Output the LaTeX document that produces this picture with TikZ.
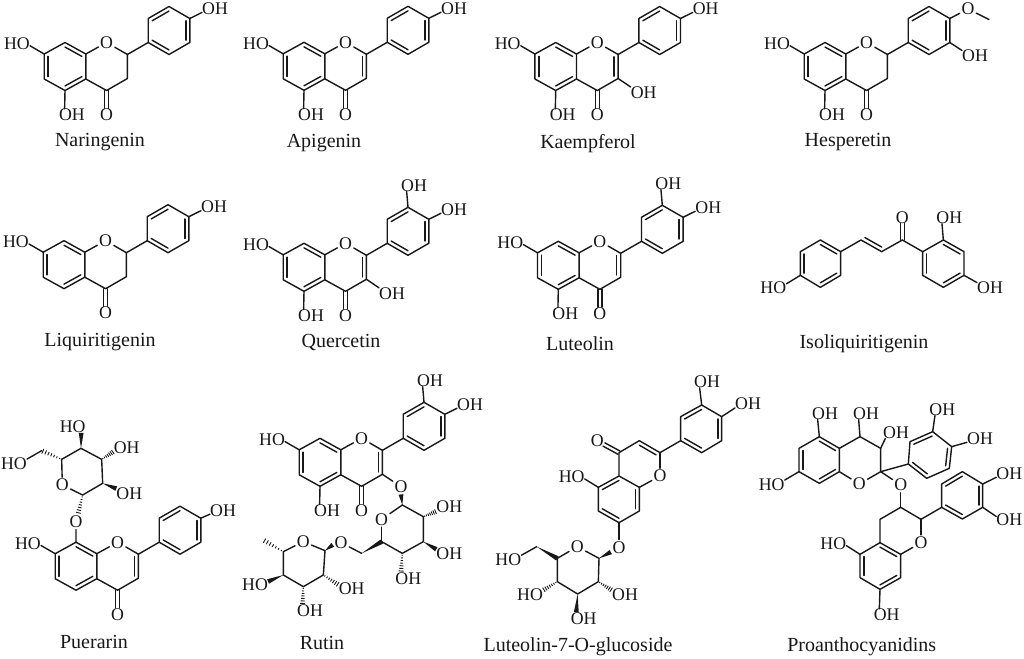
\documentclass[tikz,border=0pt]{standalone}
\usepackage{fontspec}
\setmainfont{Liberation Serif}
\usetikzlibrary{calc}
\definecolor{ink}{HTML}{181818}
\tikzset{
  bond/.style={line width=1.4pt,line join=round,line cap=round,draw=ink},
  atom/.style={font=\fontsize{17.8}{17.8}\selectfont,inner sep=0pt,text=ink},
  oatom/.style={atom,inner sep=1.6pt},
  caption/.style={font=\fontsize{20}{20}\selectfont,inner sep=0pt,text=ink,anchor=base},
  zoomed/.style={x=0.33333pt,y=-0.33333pt}
}
\newcommand{\bd}[2]{\draw[bond] (#1) -- (#2);}
\newcommand{\dbin}[3]{\draw[bond] ($(#1)!.19!(#3)$) -- ($(#2)!.19!(#3)$);}
\newcommand{\dbx}[2]{\draw[bond] ($(#1)!1.9pt!90:(#2)$) -- ($(#2)!1.9pt!-90:(#1)$);
  \draw[bond] ($(#1)!1.9pt!-90:(#2)$) -- ($(#2)!1.9pt!90:(#1)$);}
\newcommand{\wdg}[2]{\fill[ink] (#1) -- ($(#2)!2.4pt!90:(#1)$) -- ($(#2)!2.4pt!-90:(#1)$) -- cycle;}
\newcommand{\hsh}[2]{\foreach \hp in {0.1,0.24,...,1.0}{\pgfmathsetmacro\hw{0.4+2.2*\hp}
  \draw[line width=.9pt,draw=ink] ($(#1)!\hp!(#2)!\hw pt!90:(#2)$) -- ($(#1)!\hp!(#2)!\hw pt!-90:(#2)$);}}
% flavonoid core, origin at the centre of ring A
\newcommand{\mkcore}{
  \coordinate (cA) at (0,0); \coordinate (cC) at (41.6,0);
  \coordinate (a1) at (0,-24); \coordinate (a2) at (20.8,-12.5); \coordinate (a3) at (20.8,12.5);
  \coordinate (a4) at (0,24); \coordinate (a5) at (-20.8,12.5); \coordinate (a6) at (-20.8,-12.5);
  \coordinate (c2) at (62.4,-12); \coordinate (c3) at (62.4,12); \coordinate (c4) at (41.6,24);
  \node[oatom] (o1) at (41.6,-24) {O};
  \draw[bond] (a1)--(a2)--(a3)--(a4)--(a5)--(a6)--cycle;
  \dbin{a1}{a2}{cA}\dbin{a3}{a4}{cA}\dbin{a5}{a6}{cA}
  \bd{a2}{o1}\bd{o1}{c2}\draw[bond] (c2)--(c3)--(c4)--(a3);
  \node[atom] (oket) at (41.6,48) {O};
  \dbx{c4}{oket.north}
}
\newcommand{\mkdouble}{\dbin{c2}{c3}{cC}}
\newcommand{\mkringB}{
  \coordinate (cB) at (104,-36);
  \coordinate (b1) at (83.2,-24); \coordinate (b2) at (83.2,-48); \coordinate (b3) at (104,-60);
  \coordinate (b4) at (124.8,-48); \coordinate (b5) at (124.8,-24); \coordinate (b6) at (104,-12);
  \bd{c2}{b1}
  \draw[bond] (b1)--(b2)--(b3)--(b4)--(b5)--(b6)--cycle;
  \dbin{b2}{b3}{cB}\dbin{b4}{b5}{cB}\dbin{b6}{b1}{cB}
}
\newcommand{\mkhoseven}{\node[atom] (ho7) at (-48,-23) {HO}; \bd{a6}{ho7.-10}}
\newcommand{\mkohfive}{\node[atom] (oh5) at (7,48.5) {OH}; \bd{a4}{oh5.140}}
\newcommand{\mkohfourp}{\node[atom] (oh4p) at (150,-58) {OH}; \bd{b4}{oh4p.197}}
\newcommand{\mkohthreep}{\node[atom] (oh3p) at (110,-82) {OH}; \bd{b3}{oh3p.-140}}
\newcommand{\mkohthree}{\node[atom] (oh3) at (88,26) {OH}; \bd{c3}{oh3.157}}
\begin{document}
\begin{tikzpicture}[x=1pt,y=-1pt]
\useasboundingbox (0,0) rectangle (1024,658);
\fill[white] (0,0) rectangle (1024,658);
% Naringenin
\begin{scope}[shift={(65,66.5)},name prefix=m1-]
  \mkcore\mkringB\mkhoseven\mkohfive\mkohfourp
\end{scope}
\node[caption] (cap1) at (100,146) {Naringenin};
% Apigenin
\begin{scope}[shift={(304,66.3)},name prefix=m2-]
  \mkcore\mkdouble\mkringB\mkhoseven\mkohfive\mkohfourp
\end{scope}
\node[caption] (cap2) at (324,147.5) {Apigenin};
% Kaempferol
\begin{scope}[shift={(555.7,66.5)},name prefix=m3-]
  \mkcore\mkdouble\mkringB\mkhoseven\mkohfive\mkohfourp\mkohthree
\end{scope}
\node[caption] (cap3) at (588,148) {Kaempferol};
% Hesperetin
\begin{scope}[shift={(825,66.5)},name prefix=m4-]
  \mkcore\mkringB\mkhoseven\mkohfive
  \node[oatom] (ome) at (143,-57.5) {O};
  \coordinate (me) at (164,-47);
  \bd{b4}{ome}\bd{ome}{me}
  \node[atom] (oh3p) at (150,-10.5) {OH};
  \bd{b5}{oh3p.157}
\end{scope}
\node[caption] (cap4) at (848,146.5) {Hesperetin};
% Liquiritigenin
\begin{scope}[shift={(64,264.7)},name prefix=m5-]
  \mkcore\mkringB\mkhoseven\mkohfourp
\end{scope}
\node[caption] (cap5) at (100,346.5) {Liquiritigenin};
% Quercetin
\begin{scope}[shift={(304,267.3)},name prefix=m6-]
  \mkcore\mkdouble\mkringB\mkhoseven\mkohfive\mkohfourp\mkohthreep\mkohthree
\end{scope}
\node[caption] (cap6) at (341,347) {Quercetin};
% Luteolin
\begin{scope}[shift={(558.3,265.3)},name prefix=m7-]
  \mkcore\mkdouble\mkringB\mkhoseven\mkohfive\mkohfourp\mkohthreep
\end{scope}
\node[caption] (cap7) at (580,350) {Luteolin};
% Isoliquiritigenin
\begin{scope}[shift={(740,170)},zoomed,name prefix=m8-]
  \coordinate (l1) at (181,245); \coordinate (l2) at (241,210); \coordinate (l3) at (302,245);
  \coordinate (l4) at (302,316); \coordinate (l5) at (241,352); \coordinate (l6) at (181,316);
  \coordinate (cl) at (241,281);
  \draw[bond] (l1)--(l2)--(l3)--(l4)--(l5)--(l6)--cycle;
  \dbin{l1}{l6}{cl}\dbin{l2}{l3}{cl}\dbin{l4}{l5}{cl}
  \coordinate (v1) at (363,210); \coordinate (v2) at (425,245); \coordinate (co) at (487,210);
  \coordinate (cv) at (425,172);
  \draw[bond] (l3)--(v1)--(v2)--(co);
  \dbin{v1}{v2}{cv}
  \coordinate (r1) at (548,245); \coordinate (r2) at (610,210); \coordinate (r3) at (672,245);
  \coordinate (r4) at (672,316); \coordinate (r5) at (610,352); \coordinate (r6) at (548,316);
  \coordinate (cr) at (610,281);
  \bd{co}{r1}
  \draw[bond] (r1)--(r2)--(r3)--(r4)--(r5)--(r6)--cycle;
  \dbin{r1}{r6}{cr}\dbin{r2}{r3}{cr}\dbin{r4}{r5}{cr}
  \node[atom] (oc) at (487,142) {O}; \dbx{co}{oc.south}
  \node[atom] (ho) at (100,352) {HO}; \bd{l6}{ho.15}
  \node[atom] (oha) at (628,142) {OH}; \bd{r2}{oha.-140}
  \node[atom] (ohb) at (750,352) {OH}; \bd{r4}{ohb.160}
\end{scope}
\node[caption] (cap8) at (864,348) {Isoliquiritigenin};
% Puerarin
\begin{scope}[shift={(76,566.2)},name prefix=m9-]
  \mkcore\mkdouble\mkringB\mkhoseven
  \node[atom] (oh4p) at (147,-56) {OH}; \bd{b4}{oh4p.197}
\end{scope}
\begin{scope}[shift={(0,380)},zoomed,name prefix=m9-]
  \node[oatom] (ogl) at (228,425) {O};
  \bd{a1}{ogl}
  \coordinate (s1) at (248,345); \node[oatom] (so) at (187,315) {O};
  \coordinate (s5) at (185,238); \coordinate (s4) at (243,205);
  \coordinate (s3) at (305,238); \coordinate (s2) at (308,310);
  \draw[bond] (s5)--(s4)--(s3)--(s2)--(s1);
  \bd{s1}{so}\bd{so}{s5}
  \hsh{s1}{ogl.75}
  \node[atom] (h4) at (218,140) {HO}; \wdg{s4}{h4.-36}
  \node[atom] (h3) at (380,203) {OH}; \hsh{s3}{h3.197}
  \node[atom] (h2) at (388,340) {OH}; \wdg{s2}{h2.160}
  \coordinate (s6) at (125,212);
  \hsh{s5}{s6}
  \node[atom] (h6) at (42,250) {HO}; \bd{s6}{h6.18}
\end{scope}
\node[caption] (cap9) at (94,648) {Puerarin};
% Rutin
\begin{scope}[shift={(320,462.3)},name prefix=m10-]
  \mkcore\mkdouble\mkringB\mkhoseven\mkohfive\mkohfourp\mkohthreep
\end{scope}
\begin{scope}[shift={(240,370)},zoomed,name prefix=m10-]
  \node[oatom] (o3) at (483,350) {O}; \bd{c3}{o3}
  \coordinate (g1) at (487,405); \node[oatom] (go) at (425,448) {O};
  \coordinate (g5) at (425,515); \coordinate (g4) at (487,550);
  \coordinate (g3) at (550,515); \coordinate (g2) at (550,440);
  \bd{g1}{go}\bd{go}{g5}
  \draw[bond] (g5)--(g4)--(g3)--(g2)--(g1);
  \wdg{g1}{o3.south}
  \node[atom] (gh2) at (628,410) {OH}; \hsh{g2}{gh2.200}
  \node[atom] (gh3) at (628,552) {OH}; \wdg{g3}{gh3.160}
  \node[atom] (gh4) at (505,625) {OH}; \hsh{g4}{gh4.140}
  \coordinate (g6) at (365,550); \wdg{g6}{g5}
  \node[oatom] (o6) at (303,518) {O}; \bd{g6}{o6}
  \coordinate (f1) at (255,542); \node[oatom] (fo) at (190,515) {O};
  \coordinate (f5) at (130,545); \coordinate (f4) at (130,615);
  \coordinate (f3) at (190,650); \coordinate (f2) at (250,615);
  \bd{f1}{fo}\bd{fo}{f5}
  \draw[bond] (f5)--(f4)--(f3)--(f2)--(f1);
  \wdg{f1}{o6.-165}
  \coordinate (fm) at (70,510); \hsh{f5}{fm}
  \node[atom] (fh4) at (45,645) {HO}; \wdg{f4}{fh4.15}
  \node[atom] (fh2) at (335,655) {OH}; \hsh{f2}{fh2.165}
  \node[atom] (fh3) at (210,722) {OH}; \hsh{f3}{fh3.140}
\end{scope}
\node[caption] (cap10) at (322,649) {Rutin};
% Luteolin-7-O-glucoside
\begin{scope}[shift={(480,370)},zoomed,name prefix=m11-]
  \coordinate (a5) at (355,352); \coordinate (a4) at (417,318); \coordinate (a8) at (478,352);
  \coordinate (a7) at (478,423); \coordinate (a6) at (417,458); \coordinate (a3) at (355,423);
  \coordinate (cA) at (417,388); \coordinate (cC) at (478,283);
  \draw[bond] (a5)--(a4)--(a8)--(a7)--(a6)--(a3)--cycle;
  \dbin{a5}{a4}{cA}\dbin{a8}{a7}{cA}\dbin{a6}{a3}{cA}
  \coordinate (c4) at (417,248); \coordinate (c3) at (478,212); \coordinate (c2) at (540,248);
  \node[oatom] (o1) at (540,318) {O};
  \draw[bond] (a4)--(c4)--(c3)--(c2);
  \dbin{c3}{c2}{cC}
  \bd{c2}{o1}\bd{o1}{a8}
  \node[atom] (oke) at (352,212) {O}; \dbx{c4}{oke.-30}
  \node[atom] (ho5) at (275,320) {HO}; \bd{a5}{ho5.-10}
  \coordinate (b1) at (602,212); \coordinate (b2) at (602,140); \coordinate (b3) at (665,105);
  \coordinate (b4) at (725,140); \coordinate (b5) at (725,212); \coordinate (b6) at (665,248);
  \coordinate (cB) at (664,176);
  \bd{c2}{b1}
  \draw[bond] (b1)--(b2)--(b3)--(b4)--(b5)--(b6)--cycle;
  \dbin{b2}{b3}{cB}\dbin{b4}{b5}{cB}\dbin{b6}{b1}{cB}
  \node[atom] (oht) at (681,35) {OH}; \bd{b3}{oht.-140}
  \node[atom] (ohr) at (804,102) {OH}; \bd{b4}{ohr.197}
  \node[oatom] (o7) at (417,532) {O}; \bd{a6}{o7}
  \coordinate (g1) at (357,565); \node[oatom] (go) at (292,530) {O};
  \coordinate (g5) at (232,565); \coordinate (g4) at (232,635);
  \coordinate (g3) at (293,672); \coordinate (g2) at (355,635);
  \bd{g1}{go}\bd{go}{g5}
  \draw[bond] (g5)--(g4)--(g3)--(g2)--(g1);
  \wdg{g1}{o7.-150}
  \coordinate (g6) at (170,530); \wdg{g6}{g5}
  \node[atom] (gh6) at (85,570) {HO}; \bd{g6}{gh6.20}
  \node[atom] (gh4) at (150,675) {HO}; \hsh{g4}{gh4.20}
  \node[atom] (gh2) at (435,675) {OH}; \hsh{g2}{gh2.160}
  \node[atom] (gh3) at (311,745) {OH}; \wdg{g3}{gh3.140}
\end{scope}
\node[caption] (cap11) at (578,651.7) {Luteolin-7-O-glucoside};
% Proanthocyanidins
\begin{scope}[shift={(750,370)},zoomed,name prefix=m12-]
  \coordinate (p1) at (208,200); \coordinate (p2) at (268,235); \coordinate (p3) at (268,305);
  \coordinate (p4) at (208,340); \coordinate (p5) at (147,305); \coordinate (p6) at (147,235);
  \coordinate (cP) at (208,270);
  \draw[bond] (p1)--(p2)--(p3)--(p4)--(p5)--(p6)--cycle;
  \dbin{p1}{p2}{cP}\dbin{p3}{p4}{cP}\dbin{p5}{p6}{cP}
  \coordinate (q4) at (330,200); \coordinate (q3) at (392,235); \coordinate (q2) at (392,305);
  \node[oatom] (qo) at (328,342) {O};
  \draw[bond] (p2)--(q4)--(q3)--(q2);
  \bd{q2}{qo}\bd{qo}{p3}
  \node[atom] (h1) at (225,130) {OH}; \bd{p1}{h1.-140}
  \node[atom] (h2) at (348,130) {OH}; \bd{q4}{h2.-140}
  \node[atom] (h3) at (438,187) {OH}; \bd{q3}{h3.-150}
  \node[atom] (h4) at (65,343) {HO}; \bd{p5}{h4.18}
  \coordinate (t1) at (475,282); \coordinate (t2) at (480,215); \coordinate (t3) at (548,185);
  \coordinate (t4) at (605,230); \coordinate (t5) at (598,295); \coordinate (t6) at (530,325);
  \coordinate (cT) at (540,255);
  \bd{q2}{t1}
  \draw[bond] (t1)--(t2)--(t3)--(t4)--(t5)--(t6)--cycle;
  \dbin{t2}{t3}{cT}\dbin{t4}{t5}{cT}\dbin{t6}{t1}{cT}
  \node[atom] (h5) at (577,118) {OH}; \bd{t3}{h5.-140}
  \node[atom] (h6) at (690,205) {OH}; \bd{t4}{h6.197}
  \node[oatom] (ob) at (452,345) {O}; \bd{q2}{ob}
  \coordinate (u3) at (452,412); \coordinate (u4) at (390,448); \coordinate (u5) at (390,518);
  \coordinate (u6) at (452,553); \node[oatom] (uo) at (513,518) {O}; \coordinate (u2) at (513,448);
  \bd{ob}{u3}
  \draw[bond] (u2)--(u3)--(u4)--(u5)--(u6);
  \bd{u6}{uo}\bd{uo}{u2}
  \coordinate (v1) at (575,412); \coordinate (v2) at (575,342); \coordinate (v3) at (637,305);
  \coordinate (v4) at (698,342); \coordinate (v5) at (698,412); \coordinate (v6) at (637,447);
  \coordinate (cV) at (637,376);
  \bd{u2}{v1}
  \draw[bond] (v1)--(v2)--(v3)--(v4)--(v5)--(v6)--cycle;
  \dbin{v2}{v3}{cV}\dbin{v4}{v5}{cV}\dbin{v6}{v1}{cV}
  \node[atom] (h7) at (778,310) {OH}; \bd{v4}{h7.197}
  \node[atom] (h8) at (778,450) {OH}; \bd{v5}{h8.165}
  \coordinate (w3) at (452,623); \coordinate (w4) at (390,658); \coordinate (w5) at (330,623);
  \coordinate (w6) at (330,553); \coordinate (cW) at (390,588);
  \draw[bond] (u6)--(w3)--(w4)--(w5)--(w6)--(u5);
  \dbin{u5}{u6}{cW}\dbin{w3}{w4}{cW}\dbin{w5}{w6}{cW}
  \node[atom] (h9) at (250,520) {HO}; \bd{w6}{h9.-10}
  \node[atom] (h10) at (410,735) {OH}; \bd{w4}{h10.140}
\end{scope}
\node[caption] (cap12) at (861.7,651.7) {Proanthocyanidins};
\end{tikzpicture}
\end{document}
